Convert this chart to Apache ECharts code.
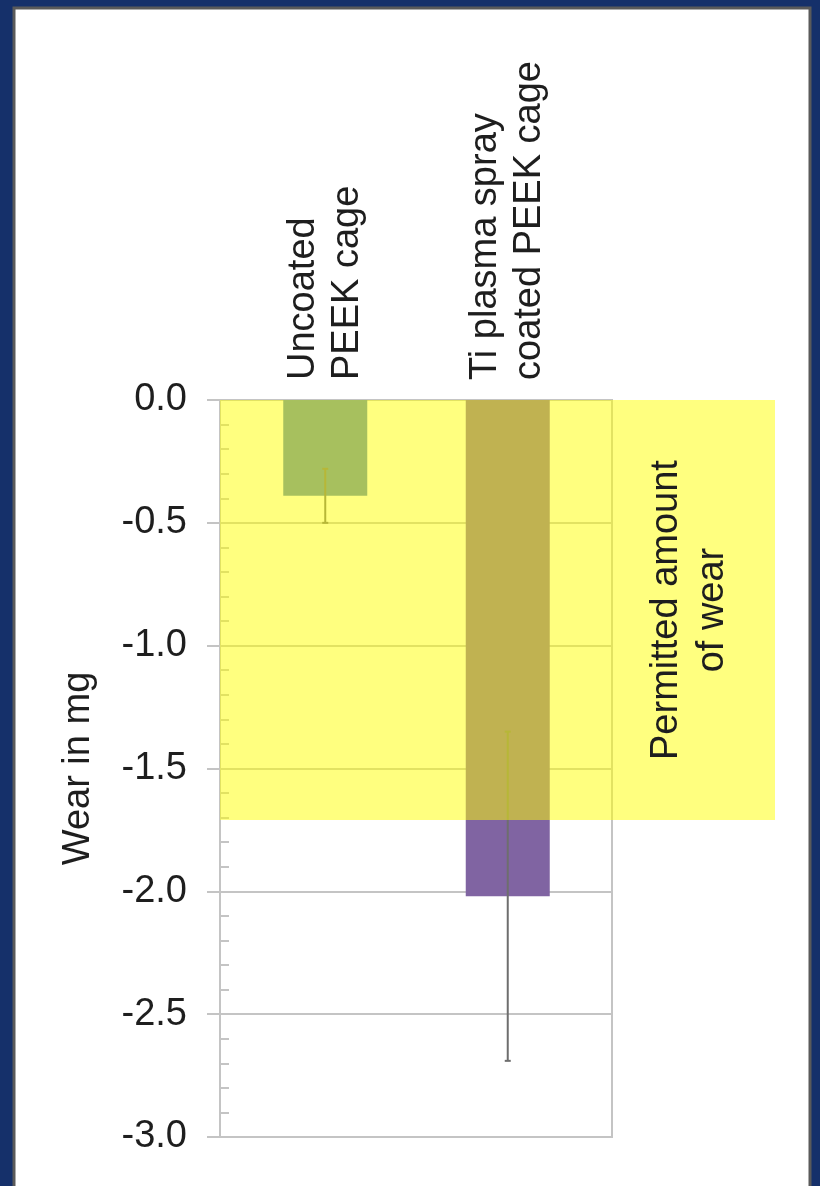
<!DOCTYPE html>
<html>
<head>
<meta charset="utf-8">
<script src="https://cdn.jsdelivr.net/npm/echarts@6/dist/echarts.min.js"></script>
<style>
  html, body { margin: 0; padding: 0; background: #15306a; }
  #chart { width: 820px; height: 1186px; }
</style>
</head>
<body>
<div id="chart"></div>
<script>
// Wear of PEEK cages (mg); negative values = material lost
const categories = ['Uncoated\nPEEK cage', 'Ti plasma spray\ncoated PEEK cage'];
const wear = [-0.39, -2.02];
const wearError = [0.11, 0.67];
const barColors = ['#4f81bd', '#8064a2'];
const yTicks = [0, -0.5, -1.0, -1.5, -2.0, -2.5, -3.0];
const permittedWear = -1.71;
const permittedLabel = 'Permitted amount\nof wear';

const FONT = '"Liberation Sans", Arial, sans-serif';
const TEXT = '#1e1e1e';
const GRIDC = '#c4c4c4';
const yMin = yTicks[yTicks.length - 1];
const yMax = yTicks[0];
const yStep = yTicks[0] - yTicks[1];

const chart = echarts.init(document.getElementById('chart'), null, { renderer: 'canvas' });

const errorData = wear.map((v, i) => [i, v - wearError[i], v + wearError[i]]);

const option = {
  animation: false,
  textStyle: { fontFamily: FONT },
  grid: [
    // plot frame with value axis
    { left: 220, right: 208, top: 400, bottom: 49, show: true,
      borderColor: GRIDC, borderWidth: 2, backgroundColor: 'transparent' },
    // category layout for bars
    { left: 234, right: 221, top: 400, bottom: 49 }
  ],
  xAxis: [
    { gridIndex: 0, type: 'category', data: categories, show: false },
    {
      gridIndex: 1, type: 'category', position: 'top', data: categories,
      axisLine: { show: false }, axisTick: { show: false },
      axisLabel: {
        rotate: 90, margin: 20, fontSize: 38, lineHeight: 44,
        color: TEXT, fontFamily: FONT, interval: 0
      }
    }
  ],
  yAxis: [
    {
      gridIndex: 0, type: 'value', min: yMin, max: yMax, interval: yStep,
      name: 'Wear in mg', nameLocation: 'middle', nameGap: 122, nameRotate: 90,
      nameTextStyle: { fontSize: 38, color: TEXT, fontFamily: FONT },
      axisLine: { show: true, lineStyle: { color: GRIDC, width: 2 } },
      axisTick: { show: true, length: 13, lineStyle: { color: GRIDC, width: 2 } },
      axisLabel: { margin: 33, fontSize: 38, color: TEXT, fontFamily: FONT,
        formatter: v => v.toFixed(1) },
      splitLine: { show: true, lineStyle: { color: GRIDC, width: 2 } }
    },
    {
      // minor ticks drawn inward
      gridIndex: 0, type: 'value', min: yMin, max: yMax, interval: yStep,
      position: 'left',
      axisLine: { show: false }, axisLabel: { show: false },
      axisTick: { show: false, inside: true },
      minorTick: { show: true, splitNumber: 5, length: 9, lineStyle: { color: '#c4c4c4', width: 2 } },
      splitLine: { show: false }
    },
    { gridIndex: 1, type: 'value', min: yMin, max: yMax, interval: yStep, show: false }
  ],
  series: [
    {
      type: 'bar', xAxisIndex: 1, yAxisIndex: 2, barWidth: 84,
      data: wear.map((v, i) => ({ value: v, itemStyle: { color: barColors[i] } })),
      z: 2
    },
    {
      type: 'custom', xAxisIndex: 1, yAxisIndex: 2, z: 3,
      data: errorData,
      renderItem: (params, api) => {
        const lo = api.coord([api.value(0), api.value(1)]);
        const hi = api.coord([api.value(0), api.value(2)]);
        const st = { stroke: '#6e6e6e', lineWidth: 2 };
        const cap = 3;
        return {
          type: 'group',
          children: [
            { type: 'line', shape: { x1: lo[0], y1: lo[1], x2: hi[0], y2: hi[1] }, style: st },
            { type: 'line', shape: { x1: lo[0] - cap, y1: lo[1], x2: lo[0] + cap, y2: lo[1] }, style: st },
            { type: 'line', shape: { x1: hi[0] - cap, y1: hi[1], x2: hi[0] + cap, y2: hi[1] }, style: st }
          ]
        };
      }
    }
  ]
};

chart.setOption(option);

// Panel behind the chart and the translucent "permitted" band above it
const yTop = chart.convertToPixel({ yAxisIndex: 0 }, 0);
const yBottom = chart.convertToPixel({ yAxisIndex: 0 }, permittedWear);
const bandLeft = 220, bandRight = 775;
chart.setOption({
  graphic: [
    { type: 'rect', z: -100, silent: true,
      shape: { x: 14, y: 8, width: 796, height: 1184 },
      style: { fill: '#ffffff', stroke: '#5a5a5a', lineWidth: 3 } },
    { type: 'rect', z: 100, silent: true,
      shape: { x: bandLeft, y: yTop, width: bandRight - bandLeft, height: yBottom - yTop },
      style: { fill: 'rgba(255,255,0,0.5)' } },
    { type: 'text', z: 101, silent: true,
      x: 690, y: (yTop + yBottom) / 2, rotation: Math.PI / 2,
      style: { text: permittedLabel, font: '38px ' + FONT, fill: TEXT,
        align: 'center', verticalAlign: 'middle', lineHeight: 46 } }
  ]
});
</script>
</body>
</html>
